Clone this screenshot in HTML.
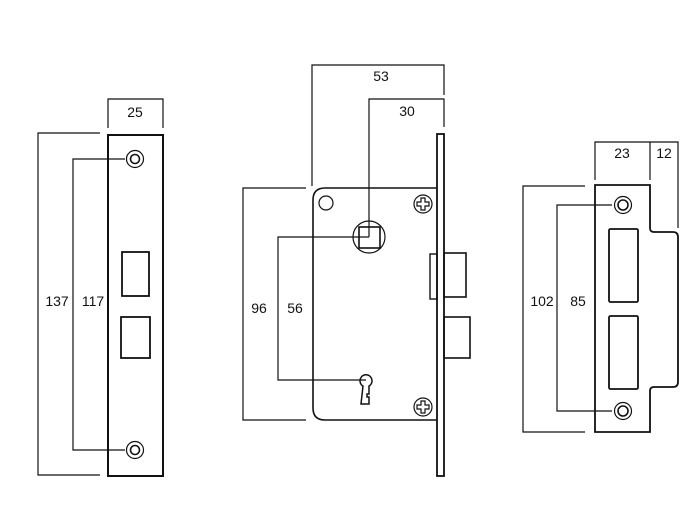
<!DOCTYPE html>
<html><head><style>body{margin:0;background:#fff}svg{display:block}text{font-family:"Liberation Sans",sans-serif;font-size:14px;fill:#111}</style></head><body>
<svg width="690" height="512" viewBox="0 0 690 512" fill="none" stroke="#111" stroke-width="1.2">
<!-- left plate -->
<path d="M108 128V99H163V128"/>
<text x="135" y="117" text-anchor="middle" stroke="none">25</text>
<path d="M100 133H38V475H100"/>
<path d="M125 159H73V450H125"/>
<text x="57" y="306" text-anchor="middle" stroke="none">137</text>
<text x="93" y="306" text-anchor="middle" stroke="none">117</text>
<rect x="108" y="135" width="55" height="341" stroke-width="2"/>
<circle cx="135" cy="159" r="8.5"/><circle cx="135" cy="159" r="4.5" stroke-width="1.6"/>
<circle cx="135" cy="450" r="8.5"/><circle cx="135" cy="450" r="4.5" stroke-width="1.6"/>
<rect x="122" y="252" width="27" height="44" stroke-width="1.8"/>
<rect x="121" y="317" width="29" height="41" stroke-width="1.8"/>
<!-- middle -->
<path d="M312 186V65H444V95"/>
<text x="381" y="81" text-anchor="middle" stroke="none">53</text>
<path d="M369 237V99H444V127"/>
<text x="407" y="116" text-anchor="middle" stroke="none">30</text>
<path d="M306 188H243V420H306"/>
<path d="M369 237H278V380H366"/>
<text x="259" y="313" text-anchor="middle" stroke="none">96</text>
<text x="295" y="313" text-anchor="middle" stroke="none">56</text>
<path d="M437 188H325Q313 188 313 200V408Q313 420 325 420H437" stroke-width="1.6"/>
<rect x="437" y="134" width="7" height="342" stroke-width="1.8"/>
<rect x="444" y="253" width="22" height="44" stroke-width="1.6"/>
<rect x="430" y="254" width="7" height="45" stroke-width="1.4"/>
<rect x="444" y="317" width="26" height="41" stroke-width="1.6"/>
<circle cx="326" cy="203" r="7"/>
<circle cx="369" cy="237" r="16"/>
<rect x="359" y="227" width="21" height="21" stroke-width="1.6"/>
<circle cx="423" cy="204" r="9"/>
<path d="M421 198h4v4h4v4h-4v4h-4v-4h-4v-4h4z"/>
<circle cx="423" cy="407" r="9"/>
<path d="M421 401h4v4h4v4h-4v4h-4v-4h-4v-4h4z"/>
<path d="M363 386a6 6 0 1 1 6 0v8h-2v3h2v7h-8z" stroke-width="1.5"/>
<!-- right -->
<path d="M595 180V142H678V228M650 142V180"/>
<text x="622" y="158" text-anchor="middle" stroke="none">23</text>
<text x="664" y="158" text-anchor="middle" stroke="none">12</text>
<path d="M585 186H523V432H585"/>
<path d="M612 205H557V411H612"/>
<text x="542" y="306" text-anchor="middle" stroke="none">102</text>
<text x="578" y="306" text-anchor="middle" stroke="none">85</text>
<path d="M595 185H650V228Q650 232 654 232H673Q678 232 678 237V382Q678 387 673 387H654Q650 387 650 391V432H595Z" stroke-width="1.8"/>
<circle cx="623" cy="205" r="8.5"/><circle cx="623" cy="205" r="5" stroke-width="1.6"/>
<circle cx="623" cy="411" r="8.5"/><circle cx="623" cy="411" r="5" stroke-width="1.6"/>
<rect x="609" y="229" width="29" height="73" rx="1.5" stroke-width="1.8"/>
<rect x="609" y="316" width="29" height="73" rx="1.5" stroke-width="1.8"/>
</svg>
</body></html>
